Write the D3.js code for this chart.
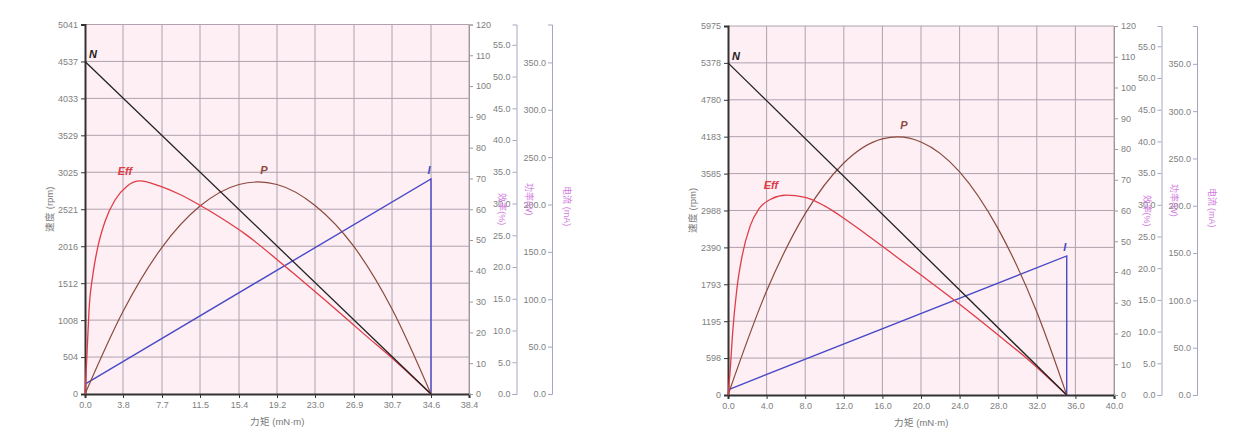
<!DOCTYPE html>
<html lang="zh-CN">
<head>
<meta charset="UTF-8">
<title>电机特性曲线</title>
<script src="https://d3js.org/d3.v7.min.js"></script>
<style>
  body { margin: 0; padding: 0; background: #fff; }
  svg { display: block; font-family: 'Liberation Sans', Arial, sans-serif; }
  .tick text { fill: #808080; font-size: 9px; }
</style>
</head>
<body>
<svg id="chart" width="1260" height="441"></svg>
<script>
// Tick labels
const speedTicksA = [0, 504, 1008, 1512, 2016, 2521, 3025, 3529, 4033, 4537, 5041];
const torqueTicksA = [0.0, 3.8, 7.7, 11.5, 15.4, 19.2, 23.0, 26.9, 30.7, 34.6, 38.4];
const speedTicksB = [0, 598, 1195, 1793, 2390, 2988, 3585, 4183, 4780, 5378, 5975];
const torqueTicksB = [0, 4, 8, 12, 16, 20, 24, 28, 32, 36, 40];
const effTicks = [0, 10, 20, 30, 40, 50, 60, 70, 80, 90, 100, 110, 120];
const powerTicks = [0, 5, 10, 15, 20, 25, 30, 35, 40, 45, 50, 55];
const currentTicks = [0, 50, 100, 150, 200, 250, 300, 350];
const powerMax = 58.2;
const currentMax = 390;

// Chart A series  [torque, value]
const speedA = [[0, 4537], [34.6, 0]];
const effA = [[0, 0], [0.2, 13], [0.4, 27], [0.8, 39], [1.3, 48], [2.0, 56], [3.0, 63], [4.2, 67.5],
  [5.5, 69.2], [7.5, 67.5], [9.5, 64.8], [11.5, 61.3], [13.5, 57.4], [16, 52], [20, 41.5],
  [24, 30.5], [28, 19.2], [31, 10.8], [34.6, 0]];
const powerA = [[0, 0], [3.8, 13], [7.7, 23.1], [11.5, 29.6], [15.4, 33], [17.3, 33.4], [19.2, 33],
  [23.0, 29.7], [26.9, 23.2], [30.7, 13.4], [34.6, 0]];
const currentA = [[0, 10.5], [34.6, 227], [34.6, 0]];

// Chart B series
const speedB = [[0, 5378], [35.1, 0]];
const effB = [[0, 0], [0.2, 7], [0.5, 21], [0.9, 34], [1.45, 45], [2.3, 55], [3.2, 60.5], [4.5, 63.8],
  [6.0, 65], [8, 64.3], [10, 61.5], [12, 57.5], [14, 53], [17, 46], [20, 39], [24, 29.5],
  [28, 19.5], [31, 11.8], [35.1, 0]];
const powerB = [[0, 0], [4, 16.4], [8, 28.6], [12, 36.6], [16, 40.4], [17.6, 40.7], [20, 39.9],
  [24, 35.2], [28, 26.2], [32, 13.1], [35.1, 0]];
const currentB = [[0, 5.5], [35.1, 147], [35.1, 0]];

const svg = d3.select('#chart');

function drawChart(cfg) {
  const g = svg.append('g');
  const x = d3.scaleLinear().domain([0, d3.max(cfg.torqueTicks)]).range([cfg.left, cfg.right]);
  const yN = d3.scaleLinear().domain([0, d3.max(cfg.speedTicks)]).range([cfg.bottom, cfg.top]);
  const yE = d3.scaleLinear().domain([0, 120]).range([cfg.bottom, cfg.top]);
  const yP = d3.scaleLinear().domain([0, powerMax]).range([cfg.bottom, cfg.top]);
  const yI = d3.scaleLinear().domain([0, currentMax]).range([cfg.bottom, cfg.top]);

  // pink plot background
  g.append('rect')
    .attr('x', cfg.left).attr('y', cfg.top)
    .attr('width', cfg.right - cfg.left).attr('height', cfg.bottom - cfg.top)
    .attr('fill', '#fdeff3');

  // grid
  g.append('g').selectAll('line.v').data(cfg.torqueTicks.slice(1)).enter().append('line')
    .attr('x1', d => x(d)).attr('x2', d => x(d))
    .attr('y1', cfg.top).attr('y2', cfg.bottom)
    .attr('stroke', '#b0a2ae').attr('stroke-width', 1);
  g.append('g').selectAll('line.h').data(cfg.speedTicks.slice(1)).enter().append('line')
    .attr('x1', cfg.left).attr('x2', cfg.right)
    .attr('y1', d => yN(d)).attr('y2', d => yN(d))
    .attr('stroke', '#b0a2ae').attr('stroke-width', 1);

  // axes
  const fmt1 = d3.format('.1f');
  const xAxis = g.append('g').attr('transform', `translate(0,${cfg.bottom})`)
    .call(d3.axisBottom(x).tickValues(cfg.torqueTicks).tickFormat(fmt1).tickSize(4).tickPadding(4));
  const yAxis = g.append('g').attr('transform', `translate(${cfg.left},0)`)
    .call(d3.axisLeft(yN).tickValues(cfg.speedTicks).tickFormat(d3.format('d')).tickSize(4).tickPadding(3));
  [xAxis, yAxis].forEach(a => {
    a.select('.domain').attr('stroke', '#333').attr('stroke-width', 2);
    a.selectAll('.tick line').attr('stroke', '#333');
  });

  const eAxis = g.append('g').attr('transform', `translate(${cfg.right},0)`)
    .call(d3.axisRight(yE).tickValues(effTicks).tickFormat(d3.format('d')).tickSize(4).tickPadding(3));
  const pAxis = g.append('g').attr('transform', `translate(${cfg.right + 47.5},0)`)
    .call(d3.axisLeft(yP).tickValues(powerTicks).tickFormat(fmt1).tickSize(4).tickPadding(2));
  const iAxis = g.append('g').attr('transform', `translate(${cfg.right + 83},0)`)
    .call(d3.axisLeft(yI).tickValues(currentTicks).tickFormat(fmt1).tickSize(4).tickPadding(2));
  eAxis.select('.domain').attr('stroke', '#9a9a9a');
  eAxis.selectAll('.tick line').attr('stroke', '#9a9a9a');
  [pAxis, iAxis].forEach(a => {
    a.select('.domain').attr('stroke', '#a6a6c4');
    a.selectAll('.tick line').attr('stroke', '#a6a6c4');
  });

  // axis titles
  g.append('text')
    .attr('x', (cfg.left + cfg.right) / 2).attr('y', cfg.bottom + 31)
    .attr('text-anchor', 'middle').attr('fill', '#777').attr('font-size', 9.5)
    .text('力矩 (mN·m)');
  g.append('text')
    .attr('transform', `translate(${cfg.left - 32},${(cfg.top + cfg.bottom) / 2}) rotate(-90)`)
    .attr('text-anchor', 'middle').attr('fill', '#777').attr('font-size', 9.5)
    .text('速度 (rpm)');
  const rightTitles = [
    { dx: 30, dy: 0, text: '效率(%)' },
    { dx: 57, dy: -10, text: '功率(W)' },
    { dx: 95, dy: -3, text: '电流 (mA)' }
  ];
  rightTitles.forEach(t => {
    g.append('text')
      .attr('transform', `translate(${cfg.right + t.dx},${(cfg.top + cfg.bottom) / 2 + t.dy}) rotate(90)`)
      .attr('text-anchor', 'middle').attr('fill', '#d27ae0').attr('font-size', 9)
      .text(t.text);
  });

  // curves
  const lineOf = (ys, curve) => d3.line().x(d => x(d[0])).y(d => ys(d[1])).curve(curve);
  g.append('path').datum(cfg.current)
    .attr('d', lineOf(yI, d3.curveLinear)).attr('fill', 'none')
    .attr('stroke', '#4a4ac8').attr('stroke-width', 1.4);
  g.append('path').datum(cfg.power)
    .attr('d', lineOf(yP, d3.curveMonotoneX)).attr('fill', 'none')
    .attr('stroke', '#8a4a3e').attr('stroke-width', 1.2);
  g.append('path').datum(cfg.eff)
    .attr('d', lineOf(yE, d3.curveMonotoneX)).attr('fill', 'none')
    .attr('stroke', '#e03c48').attr('stroke-width', 1.3);
  g.append('path').datum(cfg.speed)
    .attr('d', lineOf(yN, d3.curveLinear)).attr('fill', 'none')
    .attr('stroke', '#222').attr('stroke-width', 1.3);

  // curve labels
  const peak = arr => arr.reduce((a, b) => (b[1] > a[1] ? b : a));
  const effPeak = peak(cfg.eff), pPeak = peak(cfg.power), iPeak = peak(cfg.current);
  const labels = [
    { px: x(cfg.speed[0][0]) + 8, py: yN(cfg.speed[0][1]) - 3, text: 'N', color: '#222' },
    { px: x(effPeak[0]) - 15, py: yE(effPeak[1]) - 6, text: 'Eff', color: '#e03c48' },
    { px: x(pPeak[0]) + 6, py: yP(pPeak[1]) - 8, text: 'P', color: '#8a4a3e' },
    { px: x(iPeak[0]) - 2, py: yI(iPeak[1]) - 5, text: 'I', color: '#4a4ac8' }
  ];
  labels.forEach(l => {
    g.append('text')
      .attr('x', l.px).attr('y', l.py)
      .attr('text-anchor', 'middle')
      .attr('font-style', 'italic').attr('font-weight', 'bold').attr('font-size', 11)
      .attr('fill', l.color)
      .text(l.text);
  });
}

drawChart({
  left: 85, right: 469, top: 24.5, bottom: 394,
  torqueTicks: torqueTicksA, speedTicks: speedTicksA,
  speed: speedA, eff: effA, power: powerA, current: currentA
});
drawChart({
  left: 728, right: 1114, top: 26, bottom: 395,
  torqueTicks: torqueTicksB, speedTicks: speedTicksB,
  speed: speedB, eff: effB, power: powerB, current: currentB
});
</script>
</body>
</html>
